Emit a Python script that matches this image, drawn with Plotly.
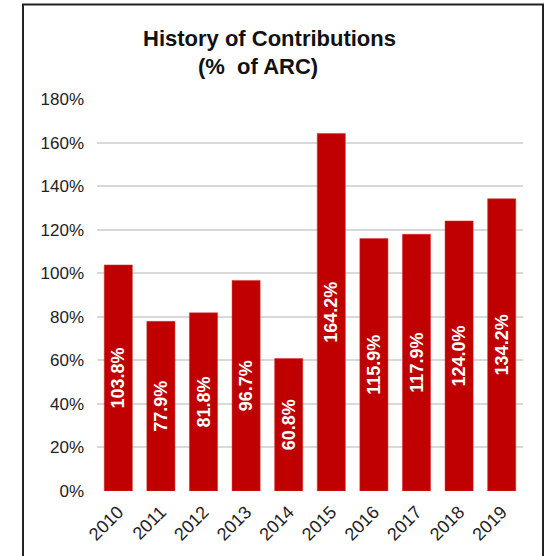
import plotly.graph_objects as go

years = ["2010", "2011", "2012", "2013", "2014", "2015", "2016", "2017", "2018", "2019"]
pct_of_arc = [103.8, 77.9, 81.8, 96.7, 60.8, 164.2, 115.9, 117.9, 124.0, 134.2]
labels = [f"{v:.1f}%" for v in pct_of_arc]
y_ticks = [0, 20, 40, 60, 80, 100, 120, 140, 160, 180]
y_tick_text = [f"{t}%" for t in y_ticks]

W, H = 550, 556
L, R, T, B = 97, 27, 99, 65
pw, ph = W - L - R, H - T - B

def px_x(x):
    return (x - L) / pw

def px_y(y):
    return (H - B - y) / ph

fig = go.Figure(go.Bar(
    x=years, y=pct_of_arc, text=labels,
    marker=dict(color="#C00000", line=dict(color="#D23030", width=0.5)),
    textposition="inside", insidetextanchor="middle", textangle=-90,
    textfont=dict(color="white", size=18, family="Liberation Sans, Arial", weight="bold"),
    cliponaxis=False,
))

fig.update_layout(
    width=W, height=H,
    margin=dict(l=L, r=R, t=T, b=B, autoexpand=False),
    paper_bgcolor="white", plot_bgcolor="white",
    bargap=0.34,
    showlegend=False,
    font=dict(family="Liberation Sans, Arial", color="#222"),
    xaxis=dict(tickangle=-45, tickfont=dict(size=18, color="#222"), showgrid=False,
               showline=False, ticks="", automargin=False, ticklabelstandoff=6),
    yaxis=dict(range=[0, 180], tickvals=y_ticks, ticktext=y_tick_text,
               tickfont=dict(size=17, color="#222"), showgrid=True,
               gridcolor="#d9d9d9", gridwidth=1.5, zeroline=False,
               showline=False, ticklabelstandoff=12, automargin=False),
    shapes=[dict(type="rect", xref="paper", yref="paper",
                 x0=px_x(23), x1=px_x(543), y0=px_y(560), y1=px_y(4.5),
                 line=dict(color="#222", width=2), fillcolor="rgba(0,0,0,0)", layer="below")],
    annotations=[
        dict(text="<b>History of Contributions</b>", xref="paper", yref="paper",
             x=px_x(269), y=px_y(38), xanchor="center", yanchor="middle",
             showarrow=False, font=dict(size=22, color="#111")),
        dict(text="<b>(%  of ARC)</b>", xref="paper", yref="paper",
             x=px_x(258), y=px_y(67), xanchor="center", yanchor="middle",
             showarrow=False, font=dict(size=22, color="#111")),
    ],
)

fig.write_html("out.html", config={"displayModeBar": False},
               post_script="document.body.style.margin='0';")
